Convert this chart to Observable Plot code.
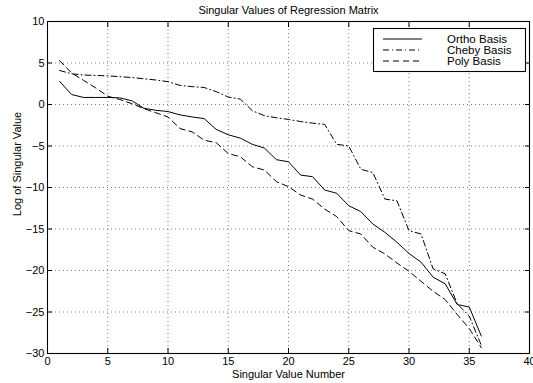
<!DOCTYPE html>
<html>
<head>
<meta charset="utf-8">
<script src="https://cdn.jsdelivr.net/npm/d3@7"></script>
<script src="https://cdn.jsdelivr.net/npm/@observablehq/plot@0.6"></script>
<style>
  html, body { margin: 0; padding: 0; background: #fff; }
  #chart svg { display: block; font-family: "Liberation Sans", Arial, Helvetica, sans-serif; }
</style>
</head>
<body>
<div id="chart"></div>
<script>
const titleText = "Singular Values of Regression Matrix";
const xLabel = "Singular Value Number";
const yLabel = "Log of Singular Value";
const seriesNames = ["Ortho Basis", "Cheby Basis", "Poly Basis"];
const index = [1,2,3,4,5,6,7,8,9,10,11,12,13,14,15,16,17,18,19,20,21,22,23,24,25,26,27,28,29,30,31,32,33,34,35,36];
const ortho = [2.8,1.2,0.85,0.85,0.85,0.8,0.45,-0.45,-0.7,-0.85,-1.25,-1.5,-1.7,-3.0,-3.65,-4.05,-4.8,-5.25,-6.65,-6.9,-8.5,-8.7,-10.3,-10.7,-12.2,-12.9,-14.4,-15.4,-16.6,-17.95,-19.0,-20.8,-21.6,-24.1,-24.4,-27.9];
const cheby = [4.1,3.7,3.55,3.5,3.45,3.35,3.25,3.1,2.95,2.75,2.3,2.15,2.05,1.55,0.9,0.65,-0.75,-1.35,-1.6,-1.8,-2.05,-2.25,-2.4,-4.8,-5.0,-7.8,-8.2,-11.4,-11.6,-15.2,-15.6,-19.8,-20.4,-24.0,-25.5,-29.0];
const poly = [5.3,3.8,2.9,2.0,1.0,0.6,0.1,-0.5,-1.0,-1.5,-2.9,-3.3,-4.3,-4.6,-5.9,-6.3,-7.5,-7.9,-9.3,-9.9,-10.9,-11.4,-12.6,-13.5,-15.2,-15.6,-17.2,-18.0,-19.1,-20.1,-21.3,-22.5,-23.5,-25.3,-27.0,-29.3];
const xTicks = [0,5,10,15,20,25,30,35,40];
const yTicks = [-30,-25,-20,-15,-10,-5,0,5,10];

const dashes = ["none", "6,3,1,3", "6,4"];
const seriesValues = [ortho, cheby, poly];
const rows = seriesNames.flatMap((name, s) => index.map((n, i) => ({series: name, n, v: seriesValues[s][i]})));

const fmt = d => d < 0 ? "\u2212" + Math.abs(d) : String(d);
const grid = {stroke: "#000", strokeOpacity: 0.5, strokeDasharray: "1,3"};

const plot = Plot.plot({
  width: 533,
  height: 383,
  marginLeft: 47,
  marginRight: 4,
  marginTop: 21,
  marginBottom: 30,
  style: {fontFamily: "Liberation Sans, Arial, sans-serif", fontSize: "11px", color: "#000", background: "#fff"},
  x: {domain: [0, 40], ticks: xTicks},
  y: {domain: [-30, 10], ticks: yTicks},
  marks: [
    Plot.gridX(xTicks.filter(t => t > 0 && t < 40), grid),
    Plot.gridY(yTicks.filter(t => t > -30 && t < 10), grid),
    ...seriesNames.map((name, s) =>
      Plot.line(rows.filter(d => d.series === name), {x: "n", y: "v", stroke: "#000", strokeWidth: 1, strokeDasharray: dashes[s] === "none" ? null : dashes[s]})
    ),
    Plot.frame({stroke: "#000", strokeWidth: 1.1}),
    Plot.axisX(xTicks, {anchor: "bottom", tickSize: 0, tickPadding: 4, tickFormat: fmt, label: null, fontSize: 11}),
    Plot.axisX(xTicks, {anchor: "bottom", tickSize: -5, tickFormat: () => "", label: null}),
    Plot.axisX(xTicks, {anchor: "top", tickSize: -5, tickFormat: () => "", label: null}),
    Plot.axisY(yTicks, {anchor: "left", tickSize: 0, tickPadding: 3, tickFormat: fmt, label: null, fontSize: 11}),
    Plot.axisY(yTicks, {anchor: "left", tickSize: -5, tickFormat: () => "", label: null}),
    Plot.axisY(yTicks, {anchor: "right", tickSize: -5, tickFormat: () => "", label: null}),
    Plot.text([titleText], {frameAnchor: "top", dy: -11, lineAnchor: "middle", fontSize: 11}),
    Plot.text([xLabel], {frameAnchor: "bottom", dy: 21, lineAnchor: "middle", fontSize: 11})
  ]
});

document.getElementById("chart").appendChild(plot);

const svg = d3.select(plot);

// y-axis title
svg.append("text")
  .attr("transform", "translate(17,164) rotate(-90)")
  .attr("text-anchor", "middle")
  .attr("dy", "0.35em")
  .attr("font-size", 11)
  .attr("fill", "#000")
  .text(yLabel);

// Legend drawn inside the SVG
const lg = svg.append("g").attr("font-family", "Liberation Sans, Arial, sans-serif").attr("font-size", 11.5).attr("text-anchor", "start");
lg.append("rect").attr("x", 373.5).attr("y", 28.5).attr("width", 152).attr("height", 43)
  .attr("fill", "#fff").attr("stroke", "#000").attr("stroke-width", 1.1);
seriesNames.forEach((name, s) => {
  const y = 39 + s * 11;
  lg.append("line").attr("x1", 383).attr("x2", 422).attr("y1", y).attr("y2", y)
    .attr("stroke", "#000").attr("stroke-width", 1)
    .attr("stroke-dasharray", dashes[s] === "none" ? null : dashes[s]);
  lg.append("text").attr("x", 447).attr("y", y).attr("dy", "0.35em").attr("text-anchor", "start").attr("fill", "#000").text(name);
});
</script>
</body>
</html>
